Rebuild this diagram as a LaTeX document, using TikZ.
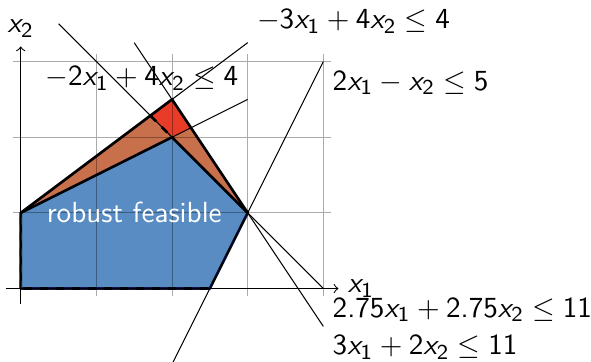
\documentclass[tikz,border=0pt]{standalone}
\DeclareSymbolFont{sfletters}{OT1}{cmss}{m}{sl}
\DeclareSymbolFont{sfnum}{OT1}{cmss}{m}{n}
\DeclareMathSymbol{x}{\mathalpha}{sfletters}{`x}
\DeclareMathSymbol{0}{\mathalpha}{sfnum}{`0}
\DeclareMathSymbol{1}{\mathalpha}{sfnum}{`1}
\DeclareMathSymbol{2}{\mathalpha}{sfnum}{`2}
\DeclareMathSymbol{3}{\mathalpha}{sfnum}{`3}
\DeclareMathSymbol{4}{\mathalpha}{sfnum}{`4}
\DeclareMathSymbol{5}{\mathalpha}{sfnum}{`5}
\DeclareMathSymbol{6}{\mathalpha}{sfnum}{`6}
\DeclareMathSymbol{7}{\mathalpha}{sfnum}{`7}
\DeclareMathSymbol{8}{\mathalpha}{sfnum}{`8}
\DeclareMathSymbol{9}{\mathalpha}{sfnum}{`9}
\DeclareMathSymbol{.}{\mathord}{sfnum}{`.}
\definecolor{redfill}{RGB}{232,60,40}
\definecolor{brownfill}{RGB}{200,112,75}
\definecolor{bluefill}{RGB}{88,140,195}
\definecolor{darkblueline}{RGB}{20,30,110}
\tikzset{
  constraint/.style={black, thin},
  border/.style={black, line width=1pt, line join=round},
  dashborder/.style={black, line width=1pt, dashed},
  robustborder/.style={darkblueline, line width=0.8pt, dashed, line join=round},
  gridlines/.style={black, opacity=0.33, thin},
  axis/.style={black, thin, ->},
  lbl/.style={inner sep=0.333em}
}
\begin{document}
\begin{tikzpicture}[font=\fontsize{10.95}{13}\selectfont\sffamily]
\useasboundingbox (-0.274,-0.958) rectangle (7.538,3.814);
% polygon vertices
\coordinate (O) at (0,0);
\coordinate (A) at (0,1);
\coordinate (T) at (2,2.5);
\coordinate (C) at (3,1);
\coordinate (B) at (2.5,0);
\coordinate (M) at (1.7143,2.2857);
\coordinate (R) at (2,2);
\coordinate (N) at (2.25,2.125);
% constraint line ends
\coordinate (L1e) at (3,3.25);   % -3x1+4x2=4
\coordinate (L2e) at (3,2.5);    % -2x1+4x2=4
\coordinate (L3s) at (2,-1);     % 2x1-x2=5
\coordinate (L3e) at (4,3);
\coordinate (L4s) at (0.5,3.5);  % x1+x2=4
\coordinate (L4e) at (4,0);
\coordinate (L5s) at (1.5,3.25); % 3x1+2x2=11
\coordinate (L5e) at (4,-0.5);
% axes ends
\coordinate (xs) at (-0.2,0);
\coordinate (xe) at (4.2,0);
\coordinate (ys) at (0,-0.2);
\coordinate (ye) at (0,3.2);
% fills
\fill[redfill] (O) -- (A) -- (T) -- (C) -- (B) -- cycle;
\fill[brownfill] (O) -- (A) -- (M) -- (C) -- (B) -- cycle;
\fill[brownfill] (O) -- (A) -- (R) -- (N) -- (C) -- (B) -- cycle;
\fill[bluefill] (O) -- (A) -- (R) -- (C) -- (B) -- cycle;
% grid
\draw[gridlines] (-0.1,-0.1) grid (4.1,3.1);
% borders
\draw[border] (O) -- (A) -- (T) -- (C) -- (B) -- cycle;
\draw[robustborder] (O) -- (A) -- (R) -- (C) -- (B) -- cycle;
\draw[dashborder] (M) -- (R);
\draw[border] (A) -- (R) -- (C);
% constraint lines
\draw[constraint] (A) -- (L1e) node[lbl, above right] {$-3x_1+4x_2\leq 4$};
\draw[constraint] (A) -- (L2e) node[lbl, above left] {$-2x_1+4x_2\leq 4$};
\draw[constraint] (L3s) -- (L3e) node[lbl, below right] {$2x_1-x_2\leq 5$};
\draw[constraint] (L4s) -- (L4e) node[lbl, below right] {$2.75x_1+2.75x_2\leq 11$};
\draw[constraint] (L5s) -- (L5e) node[lbl, below right] {$3x_1+2x_2\leq 11$};
% axes
\draw[axis] (xs) -- (xe) node[lbl, right] {$x_1$};
\draw[axis] (ys) -- (ye) node[lbl, above] {$x_2$};
% label
\node[white] (rf) at (1.5,1) {robust feasible};
\end{tikzpicture}
\end{document}
